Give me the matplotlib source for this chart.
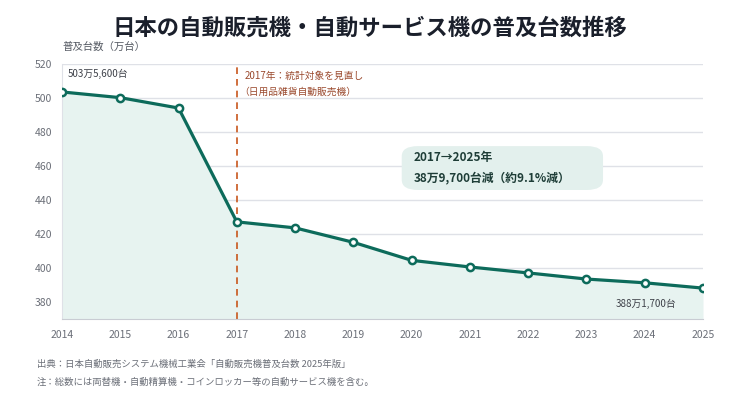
import matplotlib
matplotlib.use("Agg")
import matplotlib.pyplot as plt
from matplotlib.patches import FancyBboxPatch

plt.rcParams['font.family'] = ['Noto Sans CJK JP', 'DejaVu Sans']

# 普及台数（万台）
years = [2014, 2015, 2016, 2017, 2018, 2019, 2020, 2021, 2022, 2023, 2024, 2025]
units = [503.56, 500.2, 494.1, 427.14, 423.6, 415.1, 404.5, 400.6, 397.1, 393.5, 391.3, 388.17]
yticks = [380, 400, 420, 440, 460, 480, 500, 520]

title = "日本の自動販売機・自動サービス機の普及台数推移"
ylabel = "普及台数（万台）"
first_label = "503万5,600台"
last_label = "388万1,700台"
note_lines = ["2017年：統計対象を見直し", "（日用品雑貨自動販売機）"]
box_lines = ["2017→2025年", "38万9,700台減（約9.1%減）"]
source = "出典：日本自動販売システム機械工業会「自動販売機普及台数 2025年版」"
note = "注：総数には両替機・自動精算機・コインロッカー等の自動サービス機を含む。"

line_c = "#0d6b5b"
fill_c = "#e7f3f0"
grid_c = "#dfe1e7"
tick_c = "#6b6f78"

fig = plt.figure(figsize=(7.4, 4.16), dpi=100)
ax = fig.add_axes([62 / 740, 1 - 319 / 416, 641 / 740, 255 / 416])

ax.set_xlim(2014, 2025)
ax.set_ylim(370, 520)
ax.set_yticks(yticks)
ax.set_xticks(years)
ax.tick_params(length=0, labelsize=7.5, labelcolor=tick_c)
ax.tick_params(axis='y', pad=7)
ax.tick_params(axis='x', pad=8)
ax.grid(axis='y', color=grid_c, lw=1, zorder=0)
ax.set_axisbelow(True)
for s in ['top', 'right']:
    ax.spines[s].set_visible(False)
ax.spines['left'].set_color(grid_c)
ax.spines['bottom'].set_color("#c9ccd3")

ax.fill_between(years, units, 370, color=fill_c, zorder=1, lw=0)
ax.axvline(2017, color="#c8561c", lw=1.2, ls=(0, (4, 3)), zorder=2)
ax.plot(years, units, color=line_c, lw=2.3, marker='o', ms=5.2,
        mfc='white', mec=line_c, mew=1.8, zorder=3)

ax.annotate(first_label, (years[0], units[0]), xytext=(6, 18),
            textcoords='offset pixels', fontsize=7, color="#3d4048", va='center')
ax.annotate(last_label, (years[-1], units[-1]), xytext=(-27, -16),
            textcoords='offset pixels', fontsize=7, color="#3d4048",
            va='center', ha='right')

ax.annotate(note_lines[0], (2017, 520), xytext=(8, -12), textcoords='offset pixels',
            fontsize=7, color="#9b4a2e", va='center')
ax.annotate(note_lines[1], (2017, 520), xytext=(2, -28), textcoords='offset pixels',
            fontsize=7, color="#9b4a2e", va='center')

box = FancyBboxPatch((0.530, 0.506), 0.314, 0.172, transform=ax.transAxes,
                     boxstyle="round,pad=0,rounding_size=0.025",
                     fc="#e3f0ed", ec='none', zorder=4, mutation_aspect=1.6)
ax.add_patch(box)
ax.text(0.549, 0.635, box_lines[0], transform=ax.transAxes, fontsize=8.5,
        fontweight='bold', color="#1e3d37", va='center', zorder=5)
ax.text(0.549, 0.553, box_lines[1], transform=ax.transAxes, fontsize=8.5,
        fontweight='bold', color="#1e3d37", va='center', zorder=5)

fig.text(0.5, 1 - 28 / 416, title, ha='center', va='center', fontsize=16.1,
         fontweight='bold', color="#1a1f2b")
fig.text(62 / 740, 1 - 47 / 416, ylabel, ha='left', va='center', fontsize=7.5,
         color="#555a63")
fig.text(37 / 740, 1 - 364 / 416, source, ha='left', va='center', fontsize=6.75,
         color="#6b6f78")
fig.text(37 / 740, 1 - 382 / 416, note, ha='left', va='center', fontsize=6.75,
         color="#6b6f78")

fig.savefig("out.png", dpi=100)
